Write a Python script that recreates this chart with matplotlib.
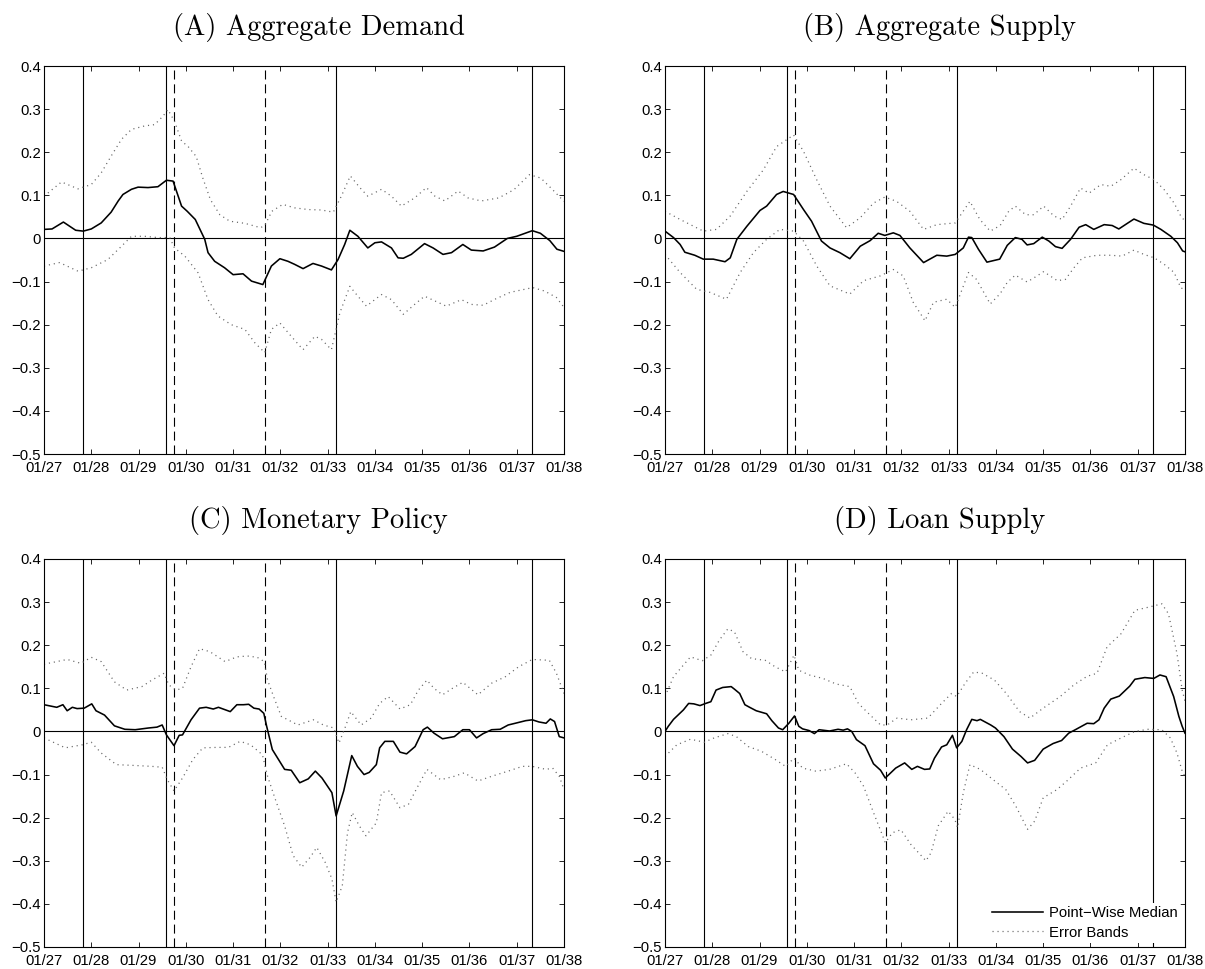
import matplotlib
matplotlib.use('Agg')
import matplotlib.pyplot as plt

plt.rcParams['font.family'] = ['Liberation Sans', 'DejaVu Sans']
plt.rcParams['lines.scale_dashes'] = False

# dates des événements (pics/creux NBER et chocs)
solid_events = [1927 + 10/12, 1929 + 7/12, 1933 + 2/12, 1937 + 4/12]
dashed_events = [1929 + 9/12, 1931 + 8/12]

years = list(range(1927, 1939))
xlabels = ['01/%02d' % (y - 1900) for y in years]
yticks = [-0.5, -0.4, -0.3, -0.2, -0.1, 0, 0.1, 0.2, 0.3, 0.4]

titles = ['(A) Aggregate Demand', '(B) Aggregate Supply',
          '(C) Monetary Policy', '(D) Loan Supply']

# --- (A) Aggregate Demand ---
a_med_t = [1927.00, 1927.17, 1927.41, 1927.67, 1927.83, 1928.00, 1928.21, 1928.42, 1928.57, 1928.67,
           1928.85, 1928.99, 1929.20, 1929.41, 1929.59, 1929.73, 1929.91, 1930.03, 1930.20, 1930.40,
           1930.47, 1930.61, 1930.82, 1931.00, 1931.21, 1931.39, 1931.63, 1931.81, 1931.99, 1932.16,
           1932.30, 1932.48, 1932.69, 1932.87, 1933.08, 1933.22, 1933.36, 1933.47, 1933.64, 1933.85,
           1934.00, 1934.14, 1934.35, 1934.49, 1934.60, 1934.77, 1935.05, 1935.23, 1935.44, 1935.62,
           1935.86, 1936.04, 1936.29, 1936.53, 1936.80, 1937.00, 1937.33, 1937.50, 1937.70, 1937.85,
           1938.00]
a_med_v = [0.021, 0.022, 0.038, 0.019, 0.017, 0.022, 0.036, 0.061, 0.087, 0.102,
           0.114, 0.119, 0.118, 0.120, 0.135, 0.133, 0.075, 0.063, 0.044, -0.002,
           -0.033, -0.053, -0.068, -0.084, -0.082, -0.099, -0.107, -0.064, -0.047, -0.053,
           -0.060, -0.070, -0.058, -0.064, -0.073, -0.049, -0.014, 0.019, 0.005, -0.022,
           -0.010, -0.008, -0.022, -0.045, -0.046, -0.037, -0.012, -0.022, -0.037, -0.033,
           -0.014, -0.027, -0.029, -0.020, 0.000, 0.005, 0.018, 0.012, -0.005, -0.025,
           -0.030]
a_hi_t = [1927.00, 1927.37, 1927.72, 1928.00, 1928.21, 1928.42, 1928.64, 1928.85, 1929.13, 1929.34,
          1929.52, 1929.62, 1929.76, 1929.91, 1930.05, 1930.22, 1930.36, 1930.52, 1930.72, 1930.93,
          1931.25, 1931.58, 1931.67, 1931.82, 1932.05, 1932.30, 1932.59, 1932.87, 1933.12, 1933.29,
          1933.48, 1933.68, 1933.85, 1934.14, 1934.35, 1934.56, 1934.84, 1935.09, 1935.27, 1935.48,
          1935.76, 1935.97, 1936.25, 1936.62, 1936.94, 1937.27, 1937.51, 1937.76, 1938.00]
a_hi_v = [0.098, 0.131, 0.115, 0.125, 0.152, 0.191, 0.230, 0.253, 0.261, 0.264,
          0.284, 0.299, 0.272, 0.226, 0.213, 0.190, 0.140, 0.090, 0.055, 0.040,
          0.035, 0.025, 0.030, 0.063, 0.079, 0.071, 0.067, 0.066, 0.061, 0.098,
          0.145, 0.118, 0.098, 0.114, 0.098, 0.075, 0.094, 0.118, 0.098, 0.087,
          0.110, 0.094, 0.087, 0.094, 0.113, 0.148, 0.140, 0.113, 0.086]
a_lo_t = [1927.00, 1927.33, 1927.72, 1928.00, 1928.35, 1928.64, 1928.85, 1929.13, 1929.41, 1929.66,
          1929.76, 1929.98, 1930.26, 1930.47, 1930.68, 1930.96, 1931.25, 1931.46, 1931.67, 1931.81,
          1931.99, 1932.23, 1932.48, 1932.73, 1932.87, 1933.08, 1933.26, 1933.47, 1933.64, 1933.82,
          1934.14, 1934.35, 1934.60, 1934.84, 1935.05, 1935.27, 1935.51, 1935.83, 1936.04, 1936.29,
          1936.54, 1936.86, 1937.34, 1937.59, 1937.84, 1938.00]
a_lo_v = [-0.064, -0.056, -0.076, -0.068, -0.049, -0.018, 0.005, 0.005, 0.002, 0.002,
          -0.022, -0.041, -0.080, -0.142, -0.180, -0.200, -0.211, -0.242, -0.265, -0.211,
          -0.196, -0.227, -0.258, -0.227, -0.234, -0.258, -0.172, -0.111, -0.134, -0.157,
          -0.130, -0.142, -0.176, -0.153, -0.134, -0.145, -0.157, -0.142, -0.153, -0.155,
          -0.141, -0.125, -0.114, -0.122, -0.137, -0.160]

# --- (B) Aggregate Supply ---
b_med_t = [1927.00, 1927.18, 1927.32, 1927.42, 1927.63, 1927.81, 1928.02, 1928.27, 1928.38, 1928.52,
           1928.73, 1929.01, 1929.15, 1929.36, 1929.50, 1929.72, 1929.93, 1930.10, 1930.31, 1930.49,
           1930.70, 1930.91, 1931.13, 1931.34, 1931.51, 1931.65, 1931.83, 1931.97, 1932.18, 1932.47,
           1932.75, 1932.96, 1933.14, 1933.31, 1933.42, 1933.49, 1933.63, 1933.81, 1934.08, 1934.24,
           1934.41, 1934.55, 1934.66, 1934.80, 1934.98, 1935.12, 1935.26, 1935.40, 1935.58, 1935.76,
           1935.90, 1936.07, 1936.29, 1936.46, 1936.60, 1936.78, 1936.92, 1937.13, 1937.33, 1937.49,
           1937.70, 1937.84, 1937.95, 1938.00]
b_med_v = [0.017, 0.002, -0.014, -0.032, -0.039, -0.048, -0.048, -0.054, -0.045, -0.002,
           0.028, 0.065, 0.075, 0.102, 0.109, 0.102, 0.067, 0.040, -0.006, -0.022,
           -0.033, -0.047, -0.018, -0.005, 0.012, 0.007, 0.013, 0.007, -0.022, -0.056,
           -0.039, -0.041, -0.037, -0.022, 0.003, 0.002, -0.025, -0.055, -0.048, -0.016,
           0.002, -0.002, -0.015, -0.012, 0.003, -0.006, -0.019, -0.023, -0.002, 0.026,
           0.032, 0.021, 0.032, 0.030, 0.022, 0.035, 0.045, 0.035, 0.031, 0.021,
           0.005, -0.010, -0.029, -0.031]
b_hi_t = [1927.00, 1927.32, 1927.81, 1928.09, 1928.38, 1928.73, 1929.08, 1929.36, 1929.72, 1929.93,
          1930.21, 1930.49, 1930.84, 1931.13, 1931.41, 1931.65, 1931.90, 1932.18, 1932.47, 1932.75,
          1933.14, 1933.45, 1933.66, 1933.88, 1934.09, 1934.27, 1934.41, 1934.63, 1934.80, 1935.01,
          1935.23, 1935.40, 1935.58, 1935.79, 1935.97, 1936.22, 1936.43, 1936.64, 1936.92, 1937.13,
          1937.35, 1937.56, 1937.77, 1937.91, 1938.00]
b_hi_v = [0.063, 0.044, 0.017, 0.021, 0.052, 0.109, 0.159, 0.213, 0.240, 0.202,
          0.136, 0.075, 0.025, 0.048, 0.082, 0.096, 0.086, 0.063, 0.021, 0.032,
          0.036, 0.086, 0.044, 0.017, 0.030, 0.063, 0.075, 0.055, 0.055, 0.075,
          0.052, 0.044, 0.075, 0.117, 0.105, 0.125, 0.121, 0.136, 0.163, 0.148,
          0.136, 0.113, 0.082, 0.052, 0.040]
b_lo_t = [1927.00, 1927.32, 1927.67, 1927.95, 1928.30, 1928.59, 1928.87, 1929.15, 1929.43, 1929.72,
          1929.93, 1930.21, 1930.49, 1930.91, 1931.20, 1931.55, 1931.83, 1932.04, 1932.25, 1932.50,
          1932.68, 1932.96, 1933.14, 1933.42, 1933.59, 1933.88, 1934.09, 1934.24, 1934.41, 1934.66,
          1934.87, 1935.01, 1935.30, 1935.47, 1935.65, 1935.83, 1936.14, 1936.43, 1936.67, 1936.92,
          1937.13, 1937.35, 1937.56, 1937.77, 1937.91, 1938.00]
b_lo_v = [-0.037, -0.079, -0.118, -0.125, -0.141, -0.079, -0.033, -0.002, 0.021, 0.017,
          -0.006, -0.064, -0.110, -0.129, -0.098, -0.087, -0.072, -0.087, -0.148, -0.191,
          -0.148, -0.141, -0.160, -0.079, -0.095, -0.152, -0.128, -0.102, -0.085, -0.101,
          -0.087, -0.077, -0.098, -0.095, -0.068, -0.045, -0.039, -0.039, -0.041, -0.027,
          -0.037, -0.045, -0.060, -0.079, -0.114, -0.120]

# --- (C) Monetary Policy ---
c_med_t = [1927.00, 1927.27, 1927.40, 1927.49, 1927.60, 1927.70, 1927.85, 1928.01, 1928.10, 1928.28,
           1928.49, 1928.71, 1928.93, 1929.07, 1929.21, 1929.39, 1929.50, 1929.59, 1929.75, 1929.86,
           1929.93, 1930.11, 1930.29, 1930.43, 1930.58, 1930.69, 1930.94, 1931.08, 1931.22, 1931.33,
           1931.44, 1931.55, 1931.65, 1931.71, 1931.83, 1932.09, 1932.23, 1932.41, 1932.59, 1932.74,
           1932.88, 1933.09, 1933.18, 1933.34, 1933.51, 1933.63, 1933.77, 1933.88, 1934.03, 1934.10,
           1934.21, 1934.39, 1934.53, 1934.67, 1934.85, 1935.02, 1935.11, 1935.25, 1935.43, 1935.68,
           1935.86, 1936.00, 1936.15, 1936.29, 1936.47, 1936.65, 1936.82, 1936.97, 1937.19, 1937.33,
           1937.47, 1937.62, 1937.71, 1937.80, 1937.90, 1938.00]
c_med_v = [0.062, 0.056, 0.062, 0.048, 0.056, 0.053, 0.054, 0.064, 0.048, 0.038,
           0.013, 0.005, 0.004, 0.006, 0.008, 0.010, 0.015, -0.008, -0.033, -0.009,
           -0.008, 0.027, 0.054, 0.056, 0.052, 0.056, 0.046, 0.062, 0.062, 0.063,
           0.054, 0.052, 0.042, 0.012, -0.042, -0.088, -0.090, -0.119, -0.110, -0.092,
           -0.108, -0.142, -0.196, -0.138, -0.056, -0.081, -0.100, -0.095, -0.077, -0.038,
           -0.023, -0.023, -0.048, -0.052, -0.035, 0.004, 0.010, -0.004, -0.017, -0.012,
           0.004, 0.004, -0.015, -0.005, 0.004, 0.005, 0.015, 0.019, 0.025, 0.027,
           0.022, 0.019, 0.029, 0.023, -0.012, -0.015]
c_hi_t = [1927.00, 1927.49, 1927.78, 1928.00, 1928.21, 1928.49, 1928.75, 1929.07, 1929.28, 1929.54,
          1929.64, 1929.79, 1929.93, 1930.11, 1930.29, 1930.51, 1930.83, 1931.08, 1931.30, 1931.51,
          1931.66, 1931.73, 1931.87, 1932.02, 1932.37, 1932.70, 1932.91, 1933.13, 1933.24, 1933.38,
          1933.49, 1933.71, 1933.92, 1934.10, 1934.28, 1934.53, 1934.75, 1934.92, 1935.10, 1935.25,
          1935.43, 1935.64, 1935.86, 1936.18, 1936.47, 1936.76, 1937.04, 1937.33, 1937.69, 1937.84,
          1938.00]
c_hi_v = [0.156, 0.167, 0.158, 0.172, 0.162, 0.115, 0.096, 0.104, 0.119, 0.135,
          0.108, 0.096, 0.100, 0.150, 0.192, 0.185, 0.162, 0.173, 0.175, 0.172,
          0.162, 0.119, 0.077, 0.035, 0.015, 0.027, 0.015, 0.008, -0.027, 0.012,
          0.046, 0.015, 0.031, 0.065, 0.081, 0.052, 0.062, 0.096, 0.119, 0.100,
          0.085, 0.100, 0.114, 0.085, 0.112, 0.127, 0.150, 0.167, 0.165, 0.135,
          0.088]
c_lo_t = [1927.00, 1927.45, 1927.81, 1928.00, 1928.21, 1928.53, 1928.93, 1929.28, 1929.50, 1929.61,
          1929.75, 1929.93, 1930.15, 1930.36, 1930.65, 1930.90, 1931.15, 1931.37, 1931.62, 1931.73,
          1931.87, 1932.09, 1932.27, 1932.45, 1932.63, 1932.77, 1932.95, 1933.09, 1933.18, 1933.31,
          1933.42, 1933.52, 1933.67, 1933.81, 1934.03, 1934.14, 1934.31, 1934.53, 1934.71, 1934.89,
          1935.10, 1935.39, 1935.68, 1935.89, 1936.18, 1936.47, 1936.82, 1937.12, 1937.33, 1937.62,
          1937.76, 1937.90, 1938.00]
c_lo_v = [-0.015, -0.038, -0.031, -0.025, -0.050, -0.077, -0.079, -0.081, -0.083, -0.112,
          -0.138, -0.108, -0.065, -0.038, -0.037, -0.037, -0.023, -0.031, -0.054, -0.104,
          -0.150, -0.219, -0.288, -0.315, -0.292, -0.269, -0.304, -0.342, -0.396, -0.358,
          -0.235, -0.188, -0.219, -0.242, -0.212, -0.142, -0.138, -0.177, -0.169, -0.131,
          -0.088, -0.112, -0.104, -0.096, -0.115, -0.104, -0.092, -0.081, -0.081, -0.088,
          -0.085, -0.104, -0.135]

# --- (D) Loan Supply ---
d_med_t = [1927.00, 1927.07, 1927.18, 1927.39, 1927.50, 1927.61, 1927.74, 1927.86, 1927.97, 1928.08,
           1928.22, 1928.40, 1928.47, 1928.58, 1928.69, 1928.79, 1928.93, 1929.15, 1929.26, 1929.40,
           1929.49, 1929.62, 1929.74, 1929.83, 1929.91, 1930.05, 1930.16, 1930.26, 1930.48, 1930.66,
           1930.77, 1930.86, 1930.95, 1931.05, 1931.23, 1931.41, 1931.56, 1931.66, 1931.88, 1932.07,
           1932.22, 1932.34, 1932.49, 1932.60, 1932.70, 1932.85, 1932.96, 1933.08, 1933.17, 1933.28,
           1933.38, 1933.49, 1933.60, 1933.67, 1933.89, 1933.99, 1934.17, 1934.35, 1934.53, 1934.67,
           1934.82, 1935.00, 1935.21, 1935.39, 1935.54, 1935.68, 1935.93, 1936.07, 1936.18, 1936.29,
           1936.43, 1936.61, 1936.83, 1936.94, 1937.15, 1937.34, 1937.47, 1937.60, 1937.76, 1937.87,
           1937.94, 1938.00]
d_med_v = [0.000, 0.012, 0.028, 0.050, 0.065, 0.064, 0.060, 0.065, 0.069, 0.096,
           0.102, 0.104, 0.098, 0.088, 0.062, 0.056, 0.048, 0.041, 0.025, 0.008,
           0.004, 0.019, 0.036, 0.012, 0.006, 0.002, -0.005, 0.004, 0.001, 0.005,
           0.003, 0.006, 0.000, -0.019, -0.033, -0.075, -0.090, -0.108, -0.085, -0.073,
           -0.088, -0.081, -0.088, -0.087, -0.062, -0.036, -0.031, -0.009, -0.038, -0.023,
           0.004, 0.028, 0.025, 0.028, 0.015, 0.008, -0.012, -0.041, -0.058, -0.073,
           -0.067, -0.041, -0.028, -0.021, -0.004, 0.004, 0.019, 0.018, 0.027, 0.054,
           0.075, 0.082, 0.105, 0.121, 0.125, 0.123, 0.131, 0.127, 0.081, 0.035,
           0.012, -0.004]
d_hi_t = [1927.00, 1927.18, 1927.39, 1927.54, 1927.79, 1927.97, 1928.15, 1928.33, 1928.47, 1928.65,
          1928.83, 1929.12, 1929.33, 1929.55, 1929.73, 1929.83, 1930.05, 1930.34, 1930.62, 1930.91,
          1931.09, 1931.34, 1931.56, 1931.70, 1931.91, 1932.20, 1932.56, 1932.85, 1933.06, 1933.17,
          1933.35, 1933.53, 1933.71, 1933.97, 1934.22, 1934.50, 1934.72, 1935.00, 1935.36, 1935.65,
          1935.93, 1936.14, 1936.35, 1936.65, 1936.94, 1937.22, 1937.51, 1937.65, 1937.83, 1937.94,
          1938.00]
d_hi_v = [0.081, 0.127, 0.154, 0.173, 0.164, 0.177, 0.212, 0.238, 0.231, 0.185,
          0.169, 0.165, 0.150, 0.138, 0.177, 0.142, 0.131, 0.123, 0.110, 0.104,
          0.065, 0.038, 0.015, 0.015, 0.031, 0.027, 0.031, 0.065, 0.088, 0.081,
          0.112, 0.138, 0.135, 0.119, 0.088, 0.046, 0.031, 0.054, 0.081, 0.108,
          0.128, 0.135, 0.196, 0.227, 0.281, 0.288, 0.296, 0.273, 0.181, 0.096,
          0.070]
d_lo_t = [1927.00, 1927.25, 1927.54, 1927.83, 1928.04, 1928.33, 1928.51, 1928.76, 1929.04, 1929.33,
          1929.55, 1929.73, 1929.91, 1930.19, 1930.48, 1930.84, 1931.02, 1931.20, 1931.41, 1931.59,
          1931.66, 1931.81, 1931.99, 1932.20, 1932.42, 1932.52, 1932.63, 1932.78, 1932.99, 1933.13,
          1933.19, 1933.31, 1933.45, 1933.67, 1933.92, 1934.21, 1934.42, 1934.67, 1934.82, 1935.00,
          1935.29, 1935.50, 1935.79, 1936.11, 1936.36, 1936.65, 1936.94, 1937.22, 1937.51, 1937.69,
          1937.83, 1937.94, 1938.00]
d_lo_v = [-0.058, -0.031, -0.018, -0.025, -0.015, -0.005, -0.012, -0.035, -0.046, -0.065,
          -0.081, -0.062, -0.085, -0.092, -0.088, -0.075, -0.096, -0.127, -0.188, -0.238,
          -0.258, -0.235, -0.228, -0.262, -0.288, -0.300, -0.281, -0.219, -0.185, -0.204,
          -0.223, -0.142, -0.077, -0.088, -0.110, -0.135, -0.173, -0.227, -0.208, -0.154,
          -0.135, -0.115, -0.085, -0.073, -0.031, -0.015, 0.000, 0.005, 0.004, -0.015,
          -0.050, -0.092, -0.105]

panels = [
    (a_med_t, a_med_v, a_lo_t, a_lo_v, a_hi_t, a_hi_v),
    (b_med_t, b_med_v, b_lo_t, b_lo_v, b_hi_t, b_hi_v),
    (c_med_t, c_med_v, c_lo_t, c_lo_v, c_hi_t, c_hi_v),
    (d_med_t, d_med_v, d_lo_t, d_lo_v, d_hi_t, d_hi_v),
]

fig = plt.figure(figsize=(12.05, 9.69), dpi=100)
W, H = 1205.0, 969.0
boxes = [(44, 66), (665, 66), (44, 559), (665, 559)]  # coin haut-gauche en pixels

for i, (box, data) in enumerate(zip(boxes, panels)):
    x0, y0 = box
    ax = fig.add_axes([x0 / W, 1 - (y0 + 388) / H, 520 / W, 388 / H])
    med_t, med_v, lo_t, lo_v, hi_t, hi_v = data

    ax.axhline(0, color='black', lw=0.8, zorder=1)
    for xe in solid_events:
        ax.axvline(xe, color='black', lw=0.8, zorder=1)
    for xe in dashed_events:
        ax.axvline(xe, color='black', lw=0.8, ls=(0, (6.5, 3.5)), zorder=1)

    ax.plot(med_t, med_v, color='black', lw=1.15, label='Point\u2212Wise Median', zorder=3)
    ax.plot(hi_t, hi_v, color='0.4', lw=0.9, ls=(0, (0.8, 2.8)), label='Error Bands', zorder=2)
    ax.plot(lo_t, lo_v, color='0.4', lw=0.9, ls=(0, (0.8, 2.8)), zorder=2)

    ax.set_xlim(1927, 1938)
    ax.set_ylim(-0.5, 0.4)
    ax.set_xticks(years)
    ax.set_xticklabels(xlabels)
    ax.set_yticks(yticks)
    ax.set_yticklabels([('%g' % v).replace('-', '\u2212') for v in yticks])
    ax.tick_params(direction='in', top=True, right=True, length=3.6, width=0.6,
                   labelsize=10.7)
    ax.tick_params(axis='x', pad=5)
    ax.tick_params(axis='y', pad=2)
    for s in ax.spines.values():
        s.set_linewidth(0.8)

    ax.set_title(titles[i], family='cmr10', fontsize=20.5, pad=22, x=0.528)

    if i == 3:
        leg = ax.legend(loc='lower right', frameon=True, fontsize=10.7, handlelength=3.4,
                        borderaxespad=0.3, labelspacing=0.35, handletextpad=0.4,
                        borderpad=0.2)
        leg.get_frame().set_edgecolor('none')
        leg.get_frame().set_facecolor('white')
        leg.get_frame().set_alpha(1)

fig.savefig('out.png', dpi=100)
